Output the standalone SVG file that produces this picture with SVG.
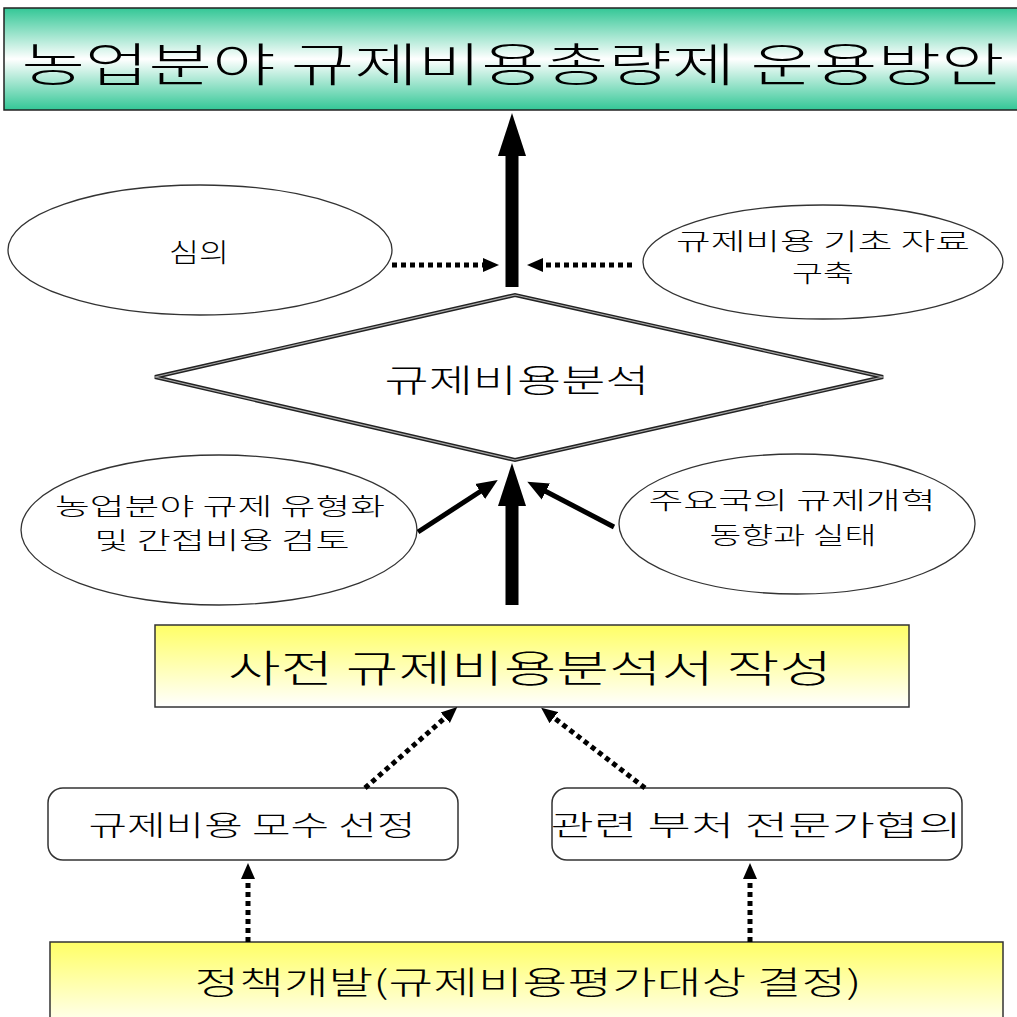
<svg xmlns="http://www.w3.org/2000/svg" width="1017" height="1017" viewBox="0 0 1017 1017">
<style>
text{font-family:"Noto Sans CJK KR","Noto Sans",sans-serif;fill:#000;text-anchor:middle;dominant-baseline:central;font-weight:300}
.ell{fill:#fff;stroke:#333;stroke-width:1.3}
.rbox{fill:#fff;stroke:#333;stroke-width:1.5}
.dot{stroke:#000;stroke-width:5;stroke-dasharray:5 4;fill:none}
.thick{stroke:#000;stroke-width:13;fill:none}
.mid{stroke:#000;stroke-width:5;fill:none}
</style>
<defs>
<linearGradient id="teal" x1="0" y1="0" x2="0" y2="1">
<stop offset="0" stop-color="#33c796"/><stop offset="0.5" stop-color="#ffffff"/><stop offset="1" stop-color="#33c796"/>
</linearGradient>
<linearGradient id="yel" x1="0" y1="0" x2="0" y2="1">
<stop offset="0" stop-color="#ffff66"/><stop offset="1" stop-color="#ffffff"/>
</linearGradient>
<marker id="big" markerUnits="userSpaceOnUse" markerWidth="44" markerHeight="30" refX="1" refY="15" orient="auto">
<path d="M0,1 L43,15 L0,29 z" fill="#000"/>
</marker>
<marker id="med" markerUnits="userSpaceOnUse" markerWidth="22" markerHeight="20" refX="1" refY="10" orient="auto">
<path d="M0,1 L21,10 L0,19 z" fill="#000"/>
</marker>
<marker id="sm" markerUnits="userSpaceOnUse" markerWidth="17" markerHeight="16" refX="1" refY="8" orient="auto">
<path d="M0,1 L16,8 L0,15 z" fill="#000"/>
</marker>
</defs>

<g id="title">
<rect x="4" y="8" width="1020" height="102" fill="url(#teal)" stroke="#222" stroke-width="1.5"/>
<text x="513" y="61" font-size="46" font-weight="400" textLength="983" lengthAdjust="spacingAndGlyphs">농업분야 규제비용총량제 운용방안</text>
</g>

<g id="simui">
<ellipse class="ell" cx="200" cy="250" rx="192" ry="65"/>
<text x="199" y="250" font-size="26" textLength="60" lengthAdjust="spacingAndGlyphs">심의</text>
</g>

<g id="basedata">
<ellipse class="ell" cx="823" cy="262" rx="180" ry="57"/>
<text x="823" y="239" font-size="24" textLength="294" lengthAdjust="spacingAndGlyphs">규제비용 기초 자료</text>
<text x="823" y="271" font-size="24" textLength="62" lengthAdjust="spacingAndGlyphs">구축</text>
</g>

<g id="analysis">
<polygon points="155,377 515,295 883,377 515,460" fill="#fff" stroke="#222" stroke-width="4"/>
<polygon points="155,377 515,295 883,377 515,460" fill="none" stroke="#aaa" stroke-width="1.2"/>
<text x="517" y="378" font-size="32" font-weight="400" textLength="265" lengthAdjust="spacingAndGlyphs">규제비용분석</text>
</g>

<g id="typing">
<ellipse class="ell" cx="219" cy="530" rx="198" ry="75"/>
<text x="220" y="504" font-size="24" textLength="330" lengthAdjust="spacingAndGlyphs">농업분야 규제 유형화</text>
<text x="222" y="538" font-size="24" textLength="255" lengthAdjust="spacingAndGlyphs">및 간접비용 검토</text>
</g>

<g id="reform">
<ellipse class="ell" cx="797" cy="524" rx="178" ry="70"/>
<text x="792" y="498" font-size="24" textLength="287" lengthAdjust="spacingAndGlyphs">주요국의 규제개혁</text>
<text x="793" y="533" font-size="24" textLength="167" lengthAdjust="spacingAndGlyphs">동향과 실태</text>
</g>

<g id="report">
<rect x="155" y="625" width="754" height="82" fill="url(#yel)" stroke="#333" stroke-width="1.5"/>
<text x="530" y="665" font-size="38" font-weight="400" textLength="604" lengthAdjust="spacingAndGlyphs">사전 규제비용분석서 작성</text>
</g>

<g id="params">
<rect class="rbox" x="48" y="788" width="410" height="72" rx="15"/>
<text x="252" y="824" font-size="28" textLength="327" lengthAdjust="spacingAndGlyphs">규제비용 모수 선정</text>
</g>

<g id="experts">
<rect class="rbox" x="552" y="788" width="410" height="72" rx="15"/>
<text x="756" y="824" font-size="28" textLength="411" lengthAdjust="spacingAndGlyphs">관련 부처 전문가협의</text>
</g>

<g id="policy">
<rect x="50" y="942" width="953" height="90" fill="url(#yel)" stroke="#333" stroke-width="1.5"/>
<text x="528" y="980" font-size="32" font-weight="400" textLength="667" lengthAdjust="spacingAndGlyphs">정책개발(규제비용평가대상 결정)</text>
</g>

<g id="connectors">
<line class="thick" x1="512" y1="287" x2="512" y2="155" marker-end="url(#big)"/>
<line class="thick" x1="512" y1="605" x2="512" y2="505" marker-end="url(#big)"/>
<line class="dot" x1="392" y1="265" x2="484" y2="265" marker-end="url(#sm)"/>
<line class="dot" x1="632" y1="265" x2="542" y2="265" marker-end="url(#sm)"/>
<line class="mid" x1="418" y1="532" x2="481" y2="491" marker-end="url(#med)"/>
<line class="mid" x1="614" y1="527" x2="545" y2="491" marker-end="url(#med)"/>
<line class="dot" x1="365" y1="788" x2="446" y2="717" marker-end="url(#sm)"/>
<line class="dot" x1="645" y1="788" x2="553" y2="717" marker-end="url(#sm)"/>
<line class="dot" x1="248" y1="942" x2="248" y2="878" marker-end="url(#sm)"/>
<line class="dot" x1="750" y1="942" x2="750" y2="878" marker-end="url(#sm)"/>
</g>
</svg>
